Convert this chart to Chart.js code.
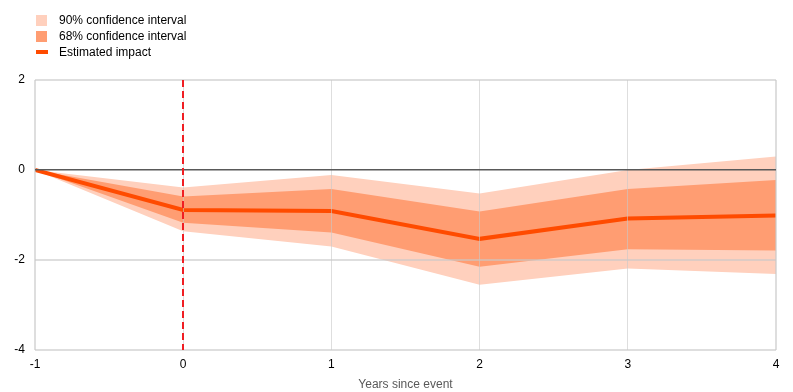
<!DOCTYPE html>
<html>
<head>
<meta charset="utf-8">
<script src="https://cdn.jsdelivr.net/npm/chart.js@4.4.0/dist/chart.umd.min.js"></script>
<style>
  body { margin: 0; background: #fff; font-family: "Liberation Sans", Arial, sans-serif; }
  #wrap { position: relative; width: 793px; height: 392px; }
  #legend { position: absolute; left: 36px; top: 12px; font-size: 12px; color: #000; }
  .item { height: 16px; display: flex; align-items: center; }
  .box { width: 11px; height: 11px; margin-right: 12px; }
  .line { width: 12px; height: 4px; margin-right: 11px; }
</style>
</head>
<body>
<div id="wrap">
  <div id="legend">
    <div class="item"><span class="box" style="background:#ffd0bd"></span>90% confidence interval</div>
    <div class="item"><span class="box" style="background:#ff9d72"></span>68% confidence interval</div>
    <div class="item"><span class="line" style="background:#ff4b00"></span>Estimated impact</div>
  </div>
  <canvas id="grafica" width="793" height="392"></canvas>
</div>
<script>
const years = [-1, 0, 1, 2, 3, 4];
const estimate = [0, -0.89, -0.91, -1.53, -1.08, -1.01];
const upper68 = [0, -0.59, -0.42, -0.92, -0.42, -0.22];
const lower68 = [0, -1.17, -1.39, -2.15, -1.76, -1.79];
const upper90 = [0, -0.39, -0.11, -0.52, 0.0, 0.3];
const lower90 = [0, -1.36, -1.7, -2.55, -2.19, -2.31];
const yTicks = [-4, -2, 0, 2];
const eventYear = 0;

const pts = (arr) => arr.map((v, i) => ({ x: years[i], y: v }));

const band = (data, color, fill, order) => ({
  data: pts(data),
  backgroundColor: color,
  borderWidth: 0,
  pointRadius: 0,
  fill,
  order,
});

// red dashed line at the event year
const eventLine = {
  id: 'eventLine',
  afterDraw(chart) {
    const { ctx, scales: { x }, chartArea } = chart;
    const px = Math.round(x.getPixelForValue(eventYear));
    ctx.save();
    ctx.strokeStyle = '#f01e23';
    ctx.lineWidth = 2;
    ctx.setLineDash([7, 4]);
    ctx.beginPath();
    ctx.moveTo(px, chartArea.top);
    ctx.lineTo(px, chartArea.bottom);
    ctx.stroke();
    ctx.restore();
  },
};

const $grafica = document.querySelector('#grafica');
// eslint-disable-next-line no-new, no-undef
new Chart($grafica, {
  type: 'line',
  data: {
    datasets: [
      {
        label: 'Estimated impact',
        data: pts(estimate),
        borderColor: '#ff4b00',
        borderWidth: 4,
        pointRadius: 0,
        fill: false,
        order: 0,
      },
      band(upper68, '#ff9d72', 2, 1),
      band(lower68, 'transparent', false, 1),
      band(upper90, '#ffd0bd', 4, 2),
      band(lower90, 'transparent', false, 2),
    ],
  },
  options: {
    responsive: false,
    animation: false,
    devicePixelRatio: 1,
    layout: { padding: { top: 80, right: 17, left: 0, bottom: 0 } },
    plugins: { legend: { display: false }, tooltip: { enabled: false } },
    scales: {
      x: {
        type: 'linear',
        min: -1,
        max: 4,
        border: { display: false },
        grid: {
          z: 1,
          drawTicks: false,
          color: 'rgba(200,200,200,0.6)',
          lineWidth: (c) => (c.tick && (c.tick.value === -1 || c.tick.value === 4) ? 2 : 1),
        },
        ticks: {
          stepSize: 1,
          padding: 7,
          color: '#000',
          font: { family: 'Liberation Sans', size: 12 },
        },
        title: {
          display: true,
          text: 'Years since event',
          color: '#595959',
          padding: { top: 3, bottom: 0 },
          font: { family: 'Liberation Sans', size: 12 },
        },
        afterFit: (s) => { s.height = 42; },
      },
      y: {
        min: -4,
        max: 2,
        border: { display: false },
        afterBuildTicks: (s) => { s.ticks = yTicks.map((v) => ({ value: v })); },
        grid: {
          z: 1,
          drawTicks: false,
          color: (c) => (c.tick && c.tick.value === 0 ? '#595959' : 'rgba(200,200,200,0.6)'),
          lineWidth: (c) => (c.tick && c.tick.value === 0 ? 1.5 : 2),
        },
        ticks: {
          padding: 10,
          color: '#000',
          font: { family: 'Liberation Sans', size: 12 },
        },
        afterFit: (s) => { s.width = 35; },
      },
    },
  },
  plugins: [eventLine],
});
</script>
</body>
</html>
